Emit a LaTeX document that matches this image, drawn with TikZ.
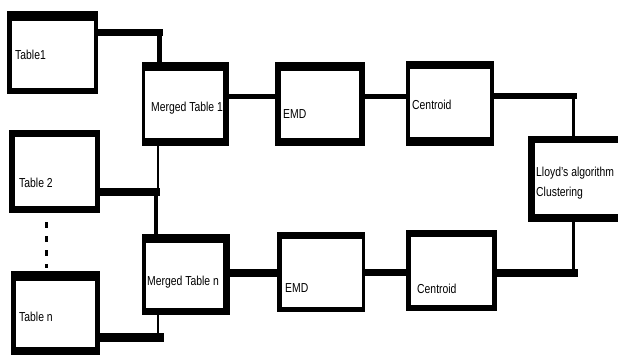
\documentclass[tikz,border=0pt]{standalone}
\usepackage{fontspec}
\setmainfont{Liberation Sans}
\tikzset{
  blk/.style={fill=black, draw=none, inner sep=0pt, outer sep=0pt},
  lbl/.style={font=\fontsize{13}{14}\selectfont, inner sep=0pt, anchor=west, text=black},
  conn/.style={draw=black, line cap=rect},
}
\newcommand\sq[1]{\scalebox{0.8}[1]{#1}}
% name, x1, y1, x2, y2, left, top, right, bottom border widths
\newcommand\mybox[9]{%
  \node[blk, minimum width={#4-#2}, minimum height={#5-#3}, anchor=north west] (#1) at (#2,#3) {};
  \fill[white] ({#2+#6},{#3+#7}) rectangle ({#4-#8},{#5-#9});
}
\begin{document}
\begin{tikzpicture}[x=1pt,y=-1pt]
\useasboundingbox (0,0) rectangle (618,354);
\clip (0,0) rectangle (618,354);
\fill[white] (0,0) rectangle (618,354);

% boxes
\mybox{t1}{7}{11}{98}{94}{5}{10}{4}{6}
\mybox{t2}{9}{130}{100}{213}{6}{7}{5}{7}
\mybox{tn}{11}{271}{100}{362}{5}{10}{5}{15}
\mybox{mt1}{142}{62}{229}{146}{3}{9}{6}{8}
\mybox{mtn}{142}{234}{230}{315}{4}{9}{7}{7}
\mybox{e1}{275}{62}{365}{146}{6}{9}{6}{8}
\mybox{c1}{406}{61}{494}{146}{4}{8}{4}{9}
\mybox{e2}{277}{232}{365}{312}{5}{7}{3}{5}
\mybox{c2}{406}{230}{497}{311}{5}{7}{5}{6}
\mybox{ll}{528}{136}{624}{222}{7}{7}{6}{8}

% labels
\node[lbl] (lt1) at (15,55) {\sq{Table1}};
\node[lbl] (lt2) at (19,183) {\sq{Table 2}};
\node[lbl] (ltn) at (19,317) {\sq{Table n}};
\node[lbl] (lmt1) at (151,108) {\sq{Merged Table 1}};
\node[lbl] (lmtn) at (147,282) {\sq{Merged Table n}};
\node[lbl] (le1) at (283,114) {\sq{EMD}};
\node[lbl] (le2) at (285,288) {\sq{EMD}};
\node[lbl] (lc1) at (412,105) {\sq{Centroid}};
\node[lbl] (lc2) at (417,289) {\sq{Centroid}};
\node[lbl] (ll1) at (536,173) {\sq{Lloyd's algorithm}};
\node[lbl] (ll2) at (536,193) {\sq{Clustering}};

% junction coordinates
\coordinate (j1) at (159.5,32.5);
\coordinate (j2) at (156,192);
\coordinate (j2t) at (158,188);
\coordinate (j3) at (159,337.5);
\coordinate (j3v) at (158,333);
\coordinate (ya) at (0,96.5);
\coordinate (yb) at (0,272.5);
\coordinate (j4) at (573.5,96);
\coordinate (j5) at (573.5,273);
\coordinate (dx) at (46.5,0);

% left side connectors
\draw[conn, line width=7pt] (t1.east |- j1) -- (j1);
\draw[conn, line width=5pt] (j1) -- (j1 |- mt1.north);
\draw[conn, line width=8pt] (t2.east |- j2) -- (j2);
\draw[conn, line width=4pt] (j2) -- (j2 |- mtn.north);
\draw[conn, line width=1.8pt] (mt1.south -| j2t) -- (j2t);
\draw[conn, line width=9pt] (tn.east |- j3) -- (j3);
\draw[conn, line width=1.8pt] (mtn.south -| j3v) -- (j3v);

% dots between Table 2 and Table n
\draw[line width=3pt, dash pattern=on 6pt off 8pt, shorten <=9pt, shorten >=3pt]
  (t2.south -| dx) -- (tn.north -| dx);

% chain connectors
\draw[conn, line width=5pt] (mt1.east |- ya) -- (e1.west |- ya);
\draw[conn, line width=5pt] (e1.east |- ya) -- (c1.west |- ya);
\draw[conn, line width=8pt] (mtn.east |- yb) -- (e2.west |- yb);
\draw[conn, line width=7pt] (e2.east |- yb) -- (c2.west |- yb);

% to Lloyd's box
\draw[conn, line width=6pt] (c1.east |- j4) -- (j4);
\draw[conn, line width=3pt] (j4) -- (j4 |- ll.north);
\draw[conn, line width=8pt] (c2.east |- j5) -- (j5);
\draw[conn, line width=3pt] (j5) -- (j5 |- ll.south);
\end{tikzpicture}
\end{document}
